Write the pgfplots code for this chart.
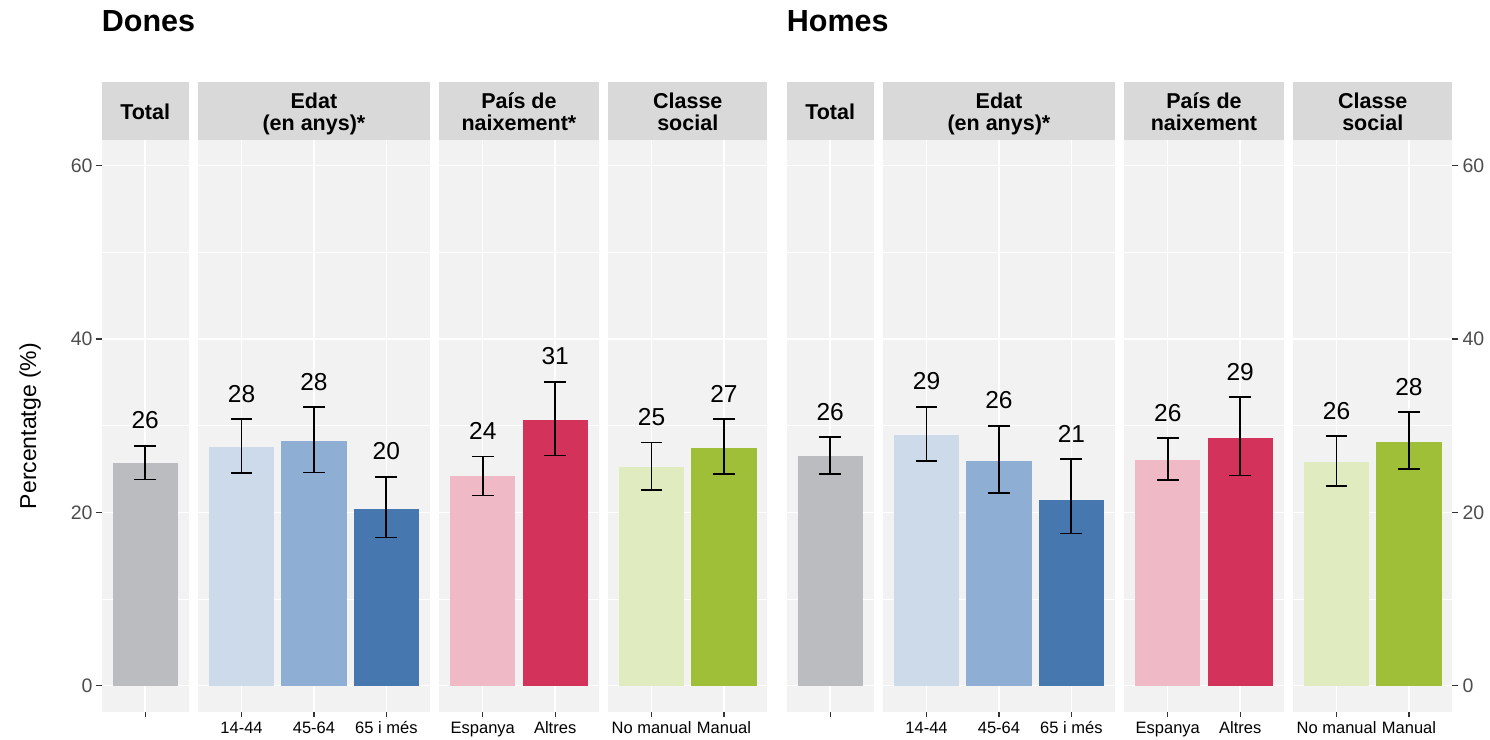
\documentclass[border=0pt]{standalone}
\usepackage{pgfplots}
\pgfplotsset{compat=1.18}
\usepackage{pgfplotstable}
\usepackage{fontspec}
\setmainfont{Liberation Sans}

\definecolor{panelbg}{HTML}{F2F2F2}
\definecolor{stripbg}{HTML}{D9D9D9}
\definecolor{tickgray}{HTML}{333333}
\definecolor{labgray}{HTML}{4D4D4D}
\definecolor{totgray}{HTML}{BBBCC0}
\definecolor{edat1}{HTML}{CDDAEA}
\definecolor{edat2}{HTML}{8FAED3}
\definecolor{edat3}{HTML}{4677AF}
\definecolor{pais1}{HTML}{EFB9C6}
\definecolor{pais2}{HTML}{D3335A}
\definecolor{classe1}{HTML}{E0EBBF}
\definecolor{classe2}{HTML}{A0BF39}

\newcommand\valuefont{\fontsize{24.5bp}{29bp}\selectfont}
\newcommand\xfont{\fontsize{16.5bp}{20bp}\selectfont}
\newcommand\yfont{\fontsize{19.5bp}{23bp}\selectfont}
\newcommand\stripfont{\fontsize{21.5bp}{22.7bp}\selectfont\bfseries}
\newcommand\titlefont{\fontsize{30.5bp}{36bp}\selectfont\bfseries}
\newcommand\ylabfont{\fontsize{23bp}{27bp}\selectfont}

\pgfkeys{/pgf/number format/assume math mode=true}

% Percentage (v) and 95% confidence bounds (lo, hi) per category
\pgfplotstableread{
x v lo hi
1 25.7 23.8 27.7
}\donesTotal
\pgfplotstableread{
x v lo hi
1 27.55 24.5 30.75
2 28.2 24.6 32.15
3 20.4 17.1 24.1
}\donesEdat
\pgfplotstableread{
x v lo hi
1 24.15 21.95 26.45
2 30.65 26.55 35.05
}\donesPais
\pgfplotstableread{
x v lo hi
1 25.25 22.6 28.05
2 27.45 24.45 30.75
}\donesClasse
\pgfplotstableread{
x v lo hi
1 26.45 24.4 28.65
}\homesTotal
\pgfplotstableread{
x v lo hi
1 28.9 25.9 32.2
2 25.95 22.2 30.0
3 21.45 17.55 26.15
}\homesEdat
\pgfplotstableread{
x v lo hi
1 26.05 23.7 28.55
2 28.6 24.25 33.3
}\homesPais
\pgfplotstableread{
x v lo hi
1 25.8 23.0 28.8
2 28.1 25.0 31.55
}\homesClasse

% one bar with its confidence interval: table #1, rows #2 (0-based) .. #3 (exclusive), colour #4
\newcommand{\facetbar}[4]{%
  \addplot[ybar, bar width=0.9, bar shift=0pt, fill=#4, draw=none,
    skip coords between index={0}{#2},
    skip coords between index={#3}{100},
    error bars/.cd, y dir=both, y explicit,
    error bar style={black, line width=1.8bp},
    error mark options={black, line width=1.8bp, mark size=10.9bp, rotate=90}]
  table[x=x, y=v,
    y error plus expr=\thisrow{hi}-\thisrow{v},
    y error minus expr=\thisrow{v}-\thisrow{lo}] {#1};
}
% rounded percentage written above each interval
\newcommand{\facetlabels}[1]{%
  \addplot[only marks, mark=text, text mark={},
    point meta=explicit,
    nodes near coords={\pgfmathprintnumber[fixed, precision=0]{\pgfplotspointmeta}},
    every node near coord/.append style={anchor=south, inner sep=0pt,
      yshift=16.6bp, font=\valuefont, text=black}]
  table[x=x, y=hi, meta=v] {#1};
}
% strip above a panel
\newcommand{\stripone}[3]{%
  \fill[stripbg] (#1,600.3) rectangle (#2,658);
  \node[anchor=base, font=\stripfont, inner sep=0pt] at ({(#1+#2)/2},620.7) {#3};
}
\newcommand{\striptwo}[4]{%
  \fill[stripbg] (#1,600.3) rectangle (#2,658);
  \node[anchor=base, font=\stripfont, inner sep=0pt] at ({(#1+#2)/2},631.7) {#3};
  \node[anchor=base, font=\stripfont, inner sep=0pt] at ({(#1+#2)/2},609) {#4};
}

\pgfplotsset{
  facet/.style={
    scale only axis, height=572bp, anchor=south west,
    ymin=-3, ymax=63, xmin=0.4,
    axis line style={draw=none},
    axis background/.style={fill=panelbg},
    ytick={0,20,40,60}, minor ytick={10,30,50},
    grid=both,
    major grid style={white, line width=1.4bp},
    minor grid style={white, line width=0.75bp},
    tick align=outside, major tick length=5bp, minor tick length=0pt,
    tick style={tickgray, line width=1.1bp},
    xtick pos=left,
    xticklabel style={anchor=base, inner sep=0pt, yshift=-16.6bp,
      font=\xfont, text=black},
    yticklabels={},
    ytick style={/pgfplots/major tick length=0pt},
  },
  leftaxis/.style={
    yticklabels={0,20,40,60}, ytick pos=left, yticklabel pos=left,
    ytick style={/pgfplots/major tick length=6bp},
    yticklabel style={anchor=east, inner sep=0pt, xshift=-4bp,
      font=\yfont, text=labgray},
  },
  rightaxis/.style={
    yticklabels={0,20,40,60}, ytick pos=right, yticklabel pos=right,
    ytick style={/pgfplots/major tick length=6bp},
    yticklabel style={anchor=west, inner sep=0pt, xshift=5bp,
      font=\yfont, text=labgray},
  },
}

\begin{document}
\begin{tikzpicture}[x=1bp, y=1bp]
\useasboundingbox (0,0) rectangle (1490,740);

% ---------------- Dones ----------------
\node[anchor=base west, font=\titlefont, inner sep=0pt] at (101.7,708.3) {Dones};

\begin{axis}[facet, leftaxis, at={(101.7bp,28.3bp)}, width=86.9bp, xmax=1.6,
  xtick={1}, xticklabels={}]
  \facetbar{\donesTotal}{0}{1}{totgray}
  \facetlabels{\donesTotal}
\end{axis}

\begin{axis}[facet, at={(198.1bp,28.3bp)}, width=231.7bp, xmax=3.6,
  xtick={1,2,3}, xticklabels={14-44,45-64,65 i més}]
  \facetbar{\donesEdat}{0}{1}{edat1}
  \facetbar{\donesEdat}{1}{2}{edat2}
  \facetbar{\donesEdat}{2}{3}{edat3}
  \facetlabels{\donesEdat}
\end{axis}

\begin{axis}[facet, at={(439.3bp,28.3bp)}, width=159.3bp, xmax=2.6,
  xtick={1,2}, xticklabels={Espanya,Altres}]
  \facetbar{\donesPais}{0}{1}{pais1}
  \facetbar{\donesPais}{1}{2}{pais2}
  \facetlabels{\donesPais}
\end{axis}

\begin{axis}[facet, at={(608.1bp,28.3bp)}, width=159.3bp, xmax=2.6,
  xtick={1,2}, xticklabels={No manual,Manual}]
  \facetbar{\donesClasse}{0}{1}{classe1}
  \facetbar{\donesClasse}{1}{2}{classe2}
  \facetlabels{\donesClasse}
\end{axis}

\stripone{101.7}{188.6}{Total}
\striptwo{198.1}{429.8}{Edat}{(en anys)*}
\striptwo{439.3}{598.6}{País de}{naixement*}
\striptwo{608.1}{767.4}{Classe}{social}

% ---------------- Homes ----------------
\node[anchor=base west, font=\titlefont, inner sep=0pt] at (786.7,708.3) {Homes};

\begin{axis}[facet, at={(786.7bp,28.3bp)}, width=86.9bp, xmax=1.6,
  xtick={1}, xticklabels={}]
  \facetbar{\homesTotal}{0}{1}{totgray}
  \facetlabels{\homesTotal}
\end{axis}

\begin{axis}[facet, at={(883.1bp,28.3bp)}, width=231.7bp, xmax=3.6,
  xtick={1,2,3}, xticklabels={14-44,45-64,65 i més}]
  \facetbar{\homesEdat}{0}{1}{edat1}
  \facetbar{\homesEdat}{1}{2}{edat2}
  \facetbar{\homesEdat}{2}{3}{edat3}
  \facetlabels{\homesEdat}
\end{axis}

\begin{axis}[facet, at={(1124.3bp,28.3bp)}, width=159.3bp, xmax=2.6,
  xtick={1,2}, xticklabels={Espanya,Altres}]
  \facetbar{\homesPais}{0}{1}{pais1}
  \facetbar{\homesPais}{1}{2}{pais2}
  \facetlabels{\homesPais}
\end{axis}

\begin{axis}[facet, rightaxis, at={(1293.1bp,28.3bp)}, width=159.3bp, xmax=2.6,
  xtick={1,2}, xticklabels={No manual,Manual}]
  \facetbar{\homesClasse}{0}{1}{classe1}
  \facetbar{\homesClasse}{1}{2}{classe2}
  \facetlabels{\homesClasse}
\end{axis}

\stripone{786.7}{873.6}{Total}
\striptwo{883.1}{1114.8}{Edat}{(en anys)*}
\striptwo{1124.3}{1283.6}{País de}{naixement}
\striptwo{1293.1}{1452.4}{Classe}{social}

% axis title
\node[rotate=90, anchor=base, font=\ylabfont, inner sep=0pt] at (36,314) {Percentatge (\%)};
\end{tikzpicture}
\end{document}
